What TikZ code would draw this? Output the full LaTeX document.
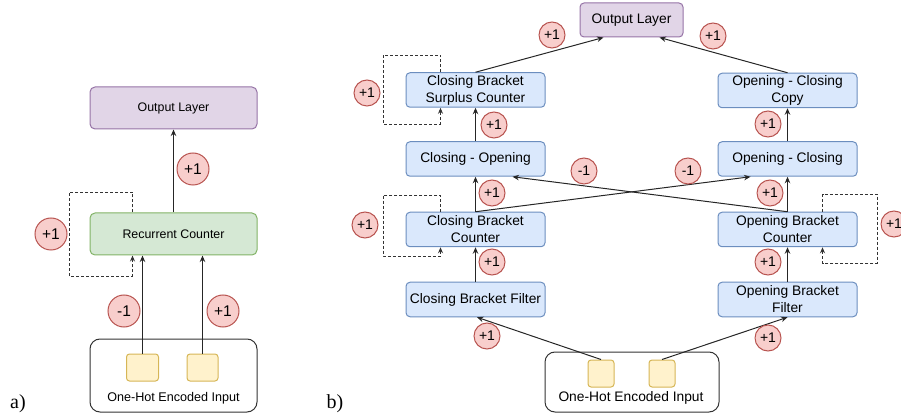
\documentclass[tikz,border=0pt]{standalone}
\usepackage{fontspec}
\setmainfont{Liberation Sans}
\newfontfamily\labserif{Liberation Serif}
\usetikzlibrary{arrows.meta,calc}
\definecolor{bfill}{HTML}{DAE8FC}
\definecolor{bdraw}{HTML}{6C8EBF}
\definecolor{gfill}{HTML}{D5E8D4}
\definecolor{gdraw}{HTML}{82B366}
\definecolor{pfill}{HTML}{E1D5E7}
\definecolor{pdraw}{HTML}{9673A6}
\definecolor{yfill}{HTML}{FFF2CC}
\definecolor{ydraw}{HTML}{D6B656}
\definecolor{rfill}{HTML}{F8CECC}
\definecolor{rdraw}{HTML}{B85450}
\tikzset{
  boxa/.style={draw, line width=1pt, rounded corners=5pt, minimum width=167pt, minimum height=42pt, inner sep=0pt, font=\fontsize{12.4}{14}\selectfont, align=center},
  boxb/.style={draw=bdraw, fill=bfill, line width=1pt, rounded corners=4pt, minimum width=139pt, minimum height=34.5pt, inner sep=0pt, font=\fontsize{13.8}{17}\selectfont, align=center},
  inbox/.style={draw=black!80, line width=1pt, rounded corners=10pt, inner sep=0pt},
  sq/.style={draw=ydraw, fill=yfill, line width=1pt, rounded corners=3pt, inner sep=0pt},
  wa/.style={circle, draw=rdraw, fill=rfill, line width=1pt, minimum size=32pt, inner sep=0pt, font=\fontsize{15.5}{15.5}\selectfont},
  wb/.style={circle, draw=rdraw, fill=rfill, line width=1pt, minimum size=26pt, inner sep=0pt, font=\fontsize{14}{14}\selectfont},
  conn/.style={draw=black!85, line width=1pt, -{Stealth[length=6.5pt,width=5.5pt]}},
  dloop/.style={draw=black!80, line width=0.9pt, dash pattern=on 3pt off 2pt, -{Stealth[length=6pt,width=5pt]}},
  plab/.style={font=\labserif\fontsize{20}{20}\selectfont, inner sep=0pt}
}
\begin{document}
\begin{tikzpicture}[x=1pt,y=-1pt]
\useasboundingbox (0,0) rectangle (901,419);
% ---------------- panel a ----------------
\node[boxa, draw=pdraw, fill=pfill] (outA) at (173.5,108) {Output Layer};
\node[boxa, draw=gdraw, fill=gfill] (recA) at (173.5,234) {Recurrent Counter};
\node[inbox, minimum width=167pt, minimum height=73pt] (inA) at (173.5,375.5) {};
\node[sq, minimum width=32pt, minimum height=27pt] (sqA1) at (142.5,367.5) {};
\node[sq, minimum width=31pt, minimum height=27pt] (sqA2) at (202.5,367.5) {};
\node[font=\fontsize{12.6}{14}\selectfont, inner sep=0pt] (txtA) at (173.5,398) {One-Hot Encoded Input};
\draw[conn] (recA.north) -- (outA.south);
\draw[conn] (sqA1.north) -- (sqA1.north |- recA.south);
\draw[conn] (sqA2.north) -- (sqA2.north |- recA.south);
\draw[dloop] ([xshift=-41pt]recA.north) |- (69,192) -- (69,276) -| ([xshift=-41pt]recA.south);
\node[wa] (wA1) at (193,169) {+1};
\node[wa] (wA2) at (51,234) {+1};
\node[wa] (wA3) at (124,311) {-1};
\node[wa] (wA4) at (223,311) {+1};
\node[plab] (la) at (18,404) {a)};
% ---------------- panel b ----------------
\node[boxb, draw=pdraw, fill=pfill, minimum width=103pt, minimum height=34pt] (outB) at (631.5,20) {Output Layer};
\node[boxb] (surp) at (475.5,90) {Closing Bracket\\Surplus Counter};
\node[boxb] (clop) at (475.5,159) {Closing - Opening};
\node[boxb] (cbc) at (475.5,229.5) {Closing Bracket\\Counter};
\node[boxb] (cbf) at (475.5,299.5) {Closing Bracket Filter};
\node[boxb] (copy) at (787.5,90.5) {Opening - Closing\\Copy};
\node[boxb] (opcl) at (787.5,159) {Opening - Closing};
\node[boxb] (obc) at (787.5,229.5) {Opening Bracket\\Counter};
\node[boxb] (obf) at (787.5,299.5) {Opening Bracket\\Filter};
\node[inbox, minimum width=174pt, minimum height=60pt] (inB) at (632,382) {};
\node[sq, minimum width=26pt, minimum height=27pt] (sqB1) at (601,373.5) {};
\node[sq, minimum width=26pt, minimum height=27pt] (sqB2) at (662,373.5) {};
\node[font=\fontsize{13.8}{16}\selectfont, inner sep=0pt] (txtB) at (631,398) {One-Hot Encoded Input};
% connectors
\draw[conn] (surp.north) -- ([xshift=-28pt]outB.south);
\draw[conn] (copy.north) -- ([xshift=28pt]outB.south);
\draw[conn] (clop.north) -- (surp.south);
\draw[conn] (opcl.north) -- (copy.south);
\draw[conn] (cbc.north) -- (clop.south);
\draw[conn] (cbc.north) -- ([xshift=-37pt]opcl.south);
\draw[conn] (obc.north) -- ([xshift=37pt]clop.south);
\draw[conn] (obc.north) -- (opcl.south);
\draw[conn] (cbf.north) -- (cbc.south);
\draw[conn] (obf.north) -- (obc.south);
\draw[conn] (sqB1.north) -- ([xshift=1.5pt]cbf.south);
\draw[conn] (sqB2.north) -- (obf.south);
% self loops
\draw[dloop] ([xshift=-35pt]surp.north) |- (383,55) -- (383,124) -| ([xshift=-35pt]surp.south);
\draw[dloop] ([xshift=-35pt]cbc.north) |- (383,195) -- (383,256) -| ([xshift=-35pt]cbc.south);
\draw[dloop] ([xshift=35pt]obc.north) |- (877,194) -- (877,263) -| ([xshift=35pt]obc.south);
% weights
\node[wb] (wB1) at (552,35) {+1};
\node[wb] (wB2) at (713,36) {+1};
\node[wb] (wB3) at (367,93) {+1};
\node[wb] (wB4) at (494,125) {+1};
\node[wb] (wB5) at (768,124) {+1};
\node[wb] (wB6) at (584,171) {-1};
\node[wb] (wB7) at (688,171) {-1};
\node[wb] (wB8) at (492,193) {+1};
\node[wb] (wB9) at (770,193) {+1};
\node[wb] (wB10) at (365,225) {+1};
\node[wb] (wB11) at (894,224) {+1};
\node[wb] (wB12) at (492,262) {+1};
\node[wb] (wB13) at (768,262) {+1};
\node[wb] (wB14) at (487,336) {+1};
\node[wb] (wB15) at (768,338) {+1};
\node[plab] (lb) at (335,404) {b)};
\end{tikzpicture}
\end{document}
